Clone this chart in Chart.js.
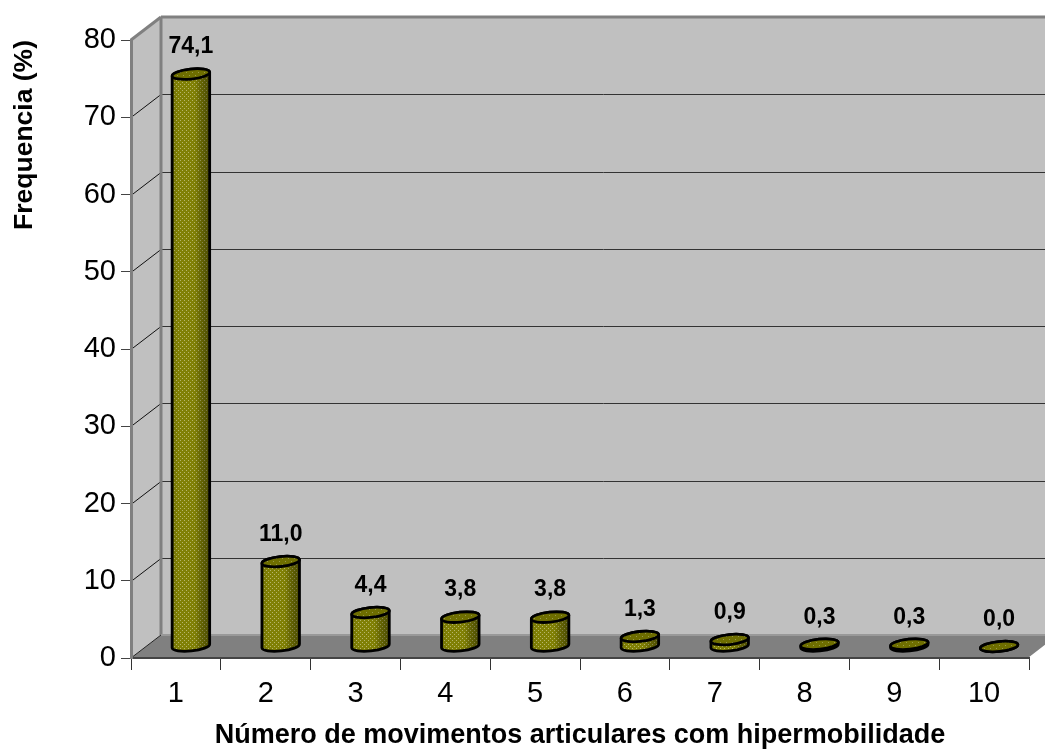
<!DOCTYPE html>
<html>
<head>
<meta charset="utf-8">
<style>
  html, body { margin: 0; padding: 0; background: #fff; overflow: hidden; }
  canvas { display: block; }
</style>
<script src="https://cdn.jsdelivr.net/npm/chart.js@4/dist/chart.umd.min.js"></script>
</head>
<body>
<canvas id="chart" width="1045" height="749"></canvas>
<script>
const categories = ['1', '2', '3', '4', '5', '6', '7', '8', '9', '10'];
const frequencies = [74.1, 11.0, 4.4, 3.8, 3.8, 1.3, 0.9, 0.3, 0.3, 0.0];
const yTicks = [0, 10, 20, 30, 40, 50, 60, 70, 80];

const xTitle = 'Número de movimentos articulares com hipermobilidade';
const yTitle = 'Frequencia (%)';

// Depth of the fake 3D box
const depth = { x: 30, y: -23 };
const fontFamily = '"Liberation Sans", Arial, sans-serif';

function dotPattern(ctx, base, dot, step) {
    const tile = document.createElement('canvas');
    tile.width = step;
    tile.height = step;
    const t = tile.getContext('2d');
    t.fillStyle = base;
    t.fillRect(0, 0, step, step);
    t.fillStyle = dot;
    t.fillRect(0, 0, 1, 1);
    t.fillRect(step / 2, step / 2, 1, 1);
    return ctx.createPattern(tile, 'repeat');
}

function polygon(ctx, points, fill) {
    ctx.beginPath();
    points.forEach((p, i) => i ? ctx.lineTo(p[0], p[1]) : ctx.moveTo(p[0], p[1]));
    ctx.closePath();
    ctx.fillStyle = fill;
    ctx.fill();
}

function line(ctx, x1, y1, x2, y2, color, width) {
    ctx.beginPath();
    ctx.moveTo(x1, y1);
    ctx.lineTo(x2, y2);
    ctx.strokeStyle = color;
    ctx.lineWidth = width;
    ctx.stroke();
}

const wallsPlugin = {
    id: 'walls',
    beforeDraw(chart) {
        const ctx = chart.ctx;
        const { left, right, top, bottom } = chart.chartArea;
        const dx = depth.x, dy = depth.y;
        ctx.save();
        polygon(ctx, [[left + dx, top + dy], [right + dx, top + dy], [right + dx, bottom + dy], [left + dx, bottom + dy]], '#C0C0C0');
        polygon(ctx, [[left, top], [left + dx, top + dy], [left + dx, bottom + dy], [left, bottom]], '#C0C0C0');
        polygon(ctx, [[left, bottom], [left + dx, bottom + dy], [right + dx, bottom + dy], [right, bottom]], '#808080');

        yTicks.forEach(v => {
            const y = Math.round(chart.scales.y.getPixelForValue(v)) + 0.5;
            if (v > 0 && v < 80) {
                line(ctx, left, y, left + dx, y + dy, '#111', 1);
                line(ctx, left + dx, y + dy, right + dx, y + dy, '#333', 1);
            }
        });
        line(ctx, left, top, left + dx, top + dy, '#808080', 3);
        line(ctx, left + dx, top + dy, right + dx, top + dy, '#808080', 3);
        line(ctx, left + dx, top + dy, left + dx, bottom + dy, '#808080', 3);
        line(ctx, left + dx, bottom + dy, right + dx, bottom + dy, '#999', 2);
        line(ctx, left, bottom, left + dx, bottom + dy, '#222', 1);
        line(ctx, right, bottom, right + dx, bottom + dy, '#fff', 1.5);
        ctx.restore();
    }
};

const cylinderPlugin = {
    id: 'cylinders',
    afterDatasetsDraw(chart) {
        const ctx = chart.ctx;
        const meta = chart.getDatasetMeta(0);
        const tilt = -6 * Math.PI / 180;
        const ry = 5;
        const body = dotPattern(ctx, '#808005', '#b6b66a', 4);
        const cap = dotPattern(ctx, '#6e6e00', '#98984a', 6);

        ctx.save();
        meta.data.forEach((bar, i) => {
            const cx = bar.x + depth.x / 2;
            const rx = bar.width / 2;
            const yTop = bar.y + depth.y / 2;
            const yBase = bar.base + depth.y / 2;

            ctx.beginPath();
            ctx.ellipse(cx, yBase, rx, ry, tilt, 0, Math.PI);
            ctx.ellipse(cx, yTop, rx, ry, tilt, Math.PI, 2 * Math.PI);
            ctx.closePath();
            ctx.fillStyle = body;
            ctx.fill();

            const shade = ctx.createLinearGradient(cx - rx, 0, cx + rx, 0);
            shade.addColorStop(0, 'rgba(0,0,0,0.12)');
            shade.addColorStop(0.15, 'rgba(0,0,0,0)');
            shade.addColorStop(0.6, 'rgba(0,0,0,0)');
            shade.addColorStop(0.75, 'rgba(0,0,0,0.2)');
            shade.addColorStop(1, 'rgba(0,0,0,0.42)');
            ctx.fillStyle = shade;
            ctx.fill();
            ctx.strokeStyle = '#000';
            ctx.lineWidth = 2.8;
            ctx.stroke();

            ctx.beginPath();
            ctx.ellipse(cx, yTop, rx, ry, tilt, 0, 2 * Math.PI);
            ctx.fillStyle = cap;
            ctx.fill();
            ctx.stroke();

            ctx.fillStyle = '#000';
            ctx.font = 'bold 23px ' + fontFamily;
            ctx.textAlign = 'center';
            ctx.textBaseline = 'middle';
            ctx.fillText(frequencies[i].toFixed(1).replace('.', ','), cx, yTop - 27);
        });
        ctx.restore();
    }
};

new Chart(document.getElementById('chart'), {
    type: 'bar',
    data: {
        labels: categories,
        datasets: [{
            data: frequencies,
            backgroundColor: 'transparent',
            borderWidth: 0,
            barPercentage: 0.42,
            categoryPercentage: 1
        }]
    },
    options: {
        responsive: false,
        animation: false,
        layout: { padding: { top: 40, right: 16, left: 0, bottom: 0 } },
        plugins: {
            legend: { display: false },
            tooltip: { enabled: false }
        },
        scales: {
            x: {
                afterFit(scale) { scale.height = 91; },
                border: { color: '#444', width: 2 },
                grid: { drawOnChartArea: false, drawTicks: true, tickLength: 12, color: '#333' },
                ticks: { color: '#000', font: { family: fontFamily, size: 29 }, padding: 7, maxRotation: 0 },
                title: {
                    display: true,
                    text: xTitle,
                    color: '#000',
                    font: { family: fontFamily, size: 27, weight: 'bold', lineHeight: 1 },
                    padding: { top: 0, bottom: 0 }
                }
            },
            y: {
                min: 0,
                max: 80,
                afterFit(scale) { scale.width = 131; },
                border: { color: '#808080', width: 3 },
                grid: { drawOnChartArea: false, drawTicks: true, tickLength: 10, color: '#444' },
                ticks: { stepSize: 10, color: '#000', font: { family: fontFamily, size: 29 }, padding: 5 },
                title: {
                    display: true,
                    text: yTitle,
                    align: 'end',
                    color: '#000',
                    font: { family: fontFamily, size: 26.5, weight: 'bold' },
                    padding: { top: 9, bottom: 0 }
                }
            }
        }
    },
    plugins: [wallsPlugin, cylinderPlugin]
});
</script>
</body>
</html>
